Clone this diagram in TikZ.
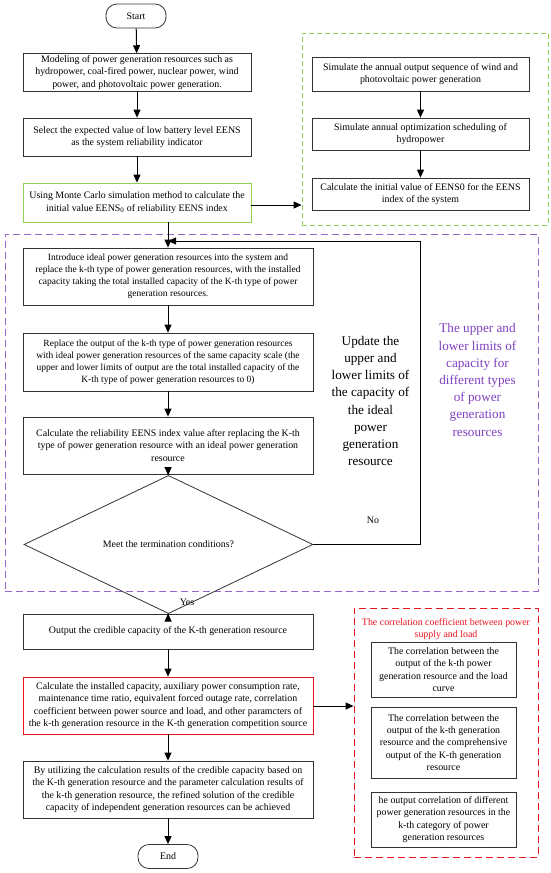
\documentclass[tikz,border=0pt]{standalone}
\usepackage{fontspec}
\setmainfont{Liberation Serif}
\usetikzlibrary{arrows.meta,shapes.geometric}
\definecolor{grn}{HTML}{92D050}
\definecolor{pdash}{HTML}{9966CC}
\definecolor{ptext}{HTML}{7F3FBF}
\definecolor{rd}{HTML}{E8141E}
\tikzset{
  box/.style={draw=black!80, line width=0.8pt, align=center, inner sep=2pt,
    font=\fontsize{9.9}{12.3}\selectfont, minimum width=#1},
  box/.default=228pt,
  term/.style={draw=black!80, line width=0.8pt, rounded corners=11pt, minimum width=60pt,
    minimum height=24pt, font=\fontsize{9.9}{12}\selectfont},
  arr/.style={line width=1pt, -{Triangle[length=8pt,width=7pt]}},
  lbl/.style={font=\fontsize{9.9}{12}\selectfont},
  big/.style={align=center, font=\fontsize{13.2}{17.2}\selectfont},
  group/.style={draw=#1, line width=0.9pt, dash pattern=on 7pt off 4pt, inner sep=0pt},
}
\begin{document}
\begin{tikzpicture}[x=1pt,y=-1pt]
\useasboundingbox (0,0) rectangle (550,873);
% start
\node[term] (start) at (136,16) {Start};
\node[box, minimum height=37pt] (b1) at (137,72.5) {Modeling of power generation resources such as\\ hydropower, coal-fired power, nuclear power, wind\\ power, and photovoltaic power generation.};
\node[box, minimum height=38pt] (b2) at (137,137) {Select the expected value of low battery level EENS\\ as the system reliability indicator};
\node[box, draw=grn, minimum height=39pt] (b3) at (137,202.5) {Using Monte Carlo simulation method to calculate the\\ initial value EENS\textsubscript{0} of reliability EENS index};
% green group
\node[group=grn, dash pattern=on 5pt off 3pt, minimum width=246pt, minimum height=192pt] (gbox) at (425,129) {};
\node[box=217pt, minimum height=34pt] (ga) at (420.5,74) {Simulate the annual output sequence of wind and\\ photovoltaic power generation};
\node[box=217pt, minimum height=32pt] (gb) at (420.5,134) {Simulate annual optimization scheduling of\\ hydropower};
\node[box=217pt, minimum height=32pt] (gc) at (420.5,194) {Calculate the initial value of EENS0 for the EENS\\ index of the system};
% purple group
\node[group=pdash, minimum width=533pt, minimum height=357pt] (pbox) at (271.5,412.5) {};
\node[box=290pt, minimum height=57pt, font=\fontsize{9.5}{12.1}\selectfont] (b4) at (168,276.5) {Introduce ideal power generation resources into the system and\\ replace the k-th type of power generation resources, with the installed\\ capacity taking the total installed capacity of the K-th type of power\\ generation resources.};
\node[box=290pt, minimum height=58pt, font=\fontsize{9.5}{12.1}\selectfont] (b5) at (168,362) {Replace the output of the k-th type of power generation resources\\ with ideal power generation resources of the same capacity scale (the\\ upper and lower limits of output are the total installed capacity of the\\ K-th type of power generation resources to 0)};
\node[box=290pt, minimum height=57pt] (b6) at (168,445.5) {Calculate the reliability EENS index value after replacing the K-th\\ type of power generation resource with an ideal power generation\\ resource};
\node[diamond, draw=black!80, line width=0.8pt, minimum width=289pt, minimum height=85pt, inner sep=0pt, lbl] (d) at (168.5,544.5) {Meet the termination conditions?};
\node[big] (upd) at (370.5,401) {Update the\\ upper and\\ lower limits of\\ the capacity of\\ the ideal\\ power\\ generation\\ resource};
\node[big, text=ptext] (ptxt) at (477.5,380) {The upper and\\ lower limits of\\ capacity for\\ different types\\ of power\\ generation\\ resources};
\node[lbl] (no) at (373,520) {No};
\node[lbl] (yes) at (187,602) {Yes};
% bottom
\node[box=290pt, minimum height=35pt] (b7) at (168,631.5) {Output the credible capacity of the K-th generation resource};
\node[box=290pt, draw=rd, minimum height=57pt] (b8) at (168,705.5) {Calculate the installed capacity, auxiliary power consumption rate,\\ maintenance time ratio, equivalent forced outage rate, correlation\\ coefficient between power source and load, and other paramcters of\\ the k-th generation resource in the K-th generation competition source};
\node[box=290pt, minimum height=57pt] (b9) at (168,789.5) {By utilizing the calculation results of the credible capacity based on\\ the K-th generation resource and the parameter calculation results of\\ the k-th generation resource, the refined solution of the credible\\ capacity of independent generation resources can be achieved};
\node[term] (end) at (168,856.5) {End};
% red group
\node[group=rd, minimum width=184pt, minimum height=249pt] (rbox) at (446,732.5) {};
\node[align=center, text=rd, font=\fontsize{9.9}{12}\selectfont] (rt) at (446,629) {The correlation coefficient between power\\ supply and load};
\node[box=145pt, minimum height=55pt] (r1) at (443.5,669.5) {The correlation between the\\ output of the k-th power\\ generation resource and the load\\ curve};
\node[box=145pt, minimum height=71pt] (r2) at (443.5,742.5) {The correlation between the\\ output of the k-th generation\\ resource and the comprehensive\\ output of the K-th generation\\ resource};
\node[box=145pt, minimum height=55pt] (r3) at (443.5,819.5) {he output correlation of different\\ power generation resources in the\\ k-th category of power\\ generation resources};
% arrows
\draw[arr] (start) -- (b1);
\draw[arr] (b1) -- (b2);
\draw[arr] (b2) -- (b3);
\draw[arr] (b3.east |- 0,205) -- (gbox.west |- 0,205);
\draw[arr] (ga) -- (gb);
\draw[arr] (gb) -- (gc);
\draw[arr] (b3.south -| b4.north) -- (b4.north);
\coordinate (fb) at (168,241);
\draw[line width=1pt] (d.east) -- (420,544.5) -- (420,241);
\draw[arr] (420,241) -- (fb);
\draw[arr] (b4) -- (b5);
\draw[arr] (b5) -- (b6);
\draw[arr] (b6) -- (d);
\draw[arr] (d) -- (b7);
\draw[arr] (b7) -- (b8);
\draw[arr] (b8) -- (b9);
\draw[arr] (b9) -- (end);
\draw[arr] (b8.east |- 0,706) -- (rbox.west |- 0,706);
\end{tikzpicture}
\end{document}
